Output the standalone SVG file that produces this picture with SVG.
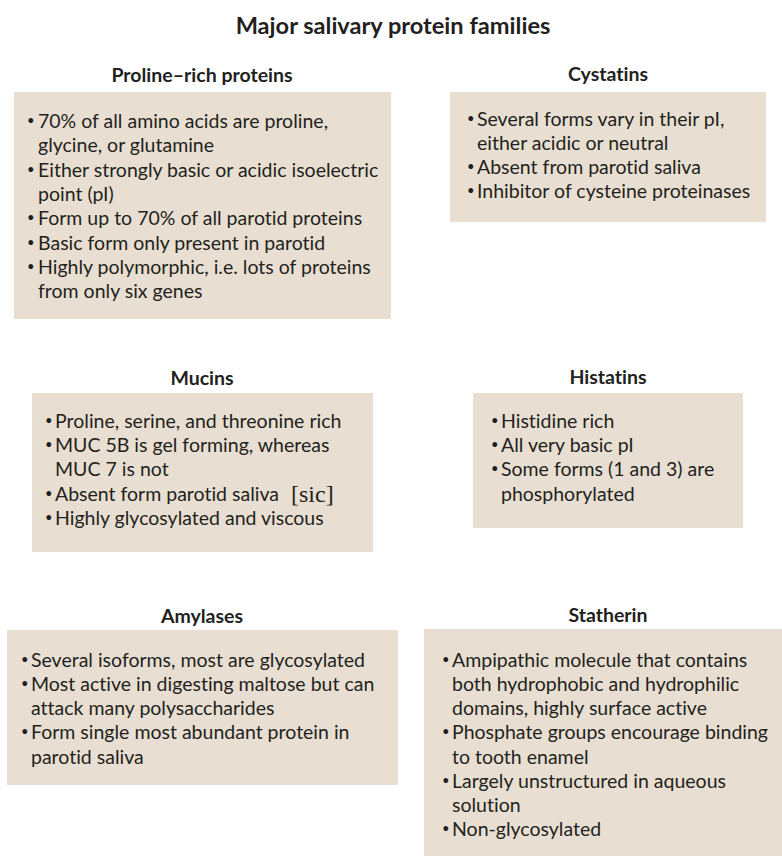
<svg xmlns="http://www.w3.org/2000/svg" width="782" height="856" viewBox="0 0 782 856">
<style>
.box{fill:#e8dfd2}
text{font-family:Lato,"Open Sans","Liberation Sans",sans-serif;fill:#231f20;font-variant-ligatures:none;font-feature-settings:"liga" 0}
.t{font-size:19.5px}
.b{font-size:13px}
.h{font-size:19.5px;font-weight:bold;text-anchor:middle}
.title{font-size:23.6px;font-weight:bold;text-anchor:middle}
.sic{font-family:"Liberation Serif",serif;font-size:24px}
</style>
<rect width="782" height="856" fill="#ffffff"/>
<text class="title" x="393" y="34">Major salivary protein families</text>

<g id="proline">
<text class="h" x="202" y="82">Proline–rich proteins</text>
<rect class="box" x="14" y="92" width="377" height="227"/>
<text class="b" x="27" y="125">•</text><text class="t" x="38" y="128">70% of all amino acids are proline,</text>
<text class="t" x="38" y="152">glycine, or glutamine</text>
<text class="b" x="27" y="174">•</text><text class="t" x="38" y="177">Either strongly basic or acidic isoelectric</text>
<text class="t" x="38" y="201">point (pI)</text>
<text class="b" x="27" y="222">•</text><text class="t" x="38" y="225">Form up to 70% of all parotid proteins</text>
<text class="b" x="27" y="247">•</text><text class="t" x="38" y="250">Basic form only present in parotid</text>
<text class="b" x="27" y="271">•</text><text class="t" x="38" y="274">Highly polymorphic, i.e. lots of proteins</text>
<text class="t" x="38" y="298">from only six genes</text>
</g>

<g id="cystatins">
<text class="h" x="608" y="81">Cystatins</text>
<rect class="box" x="450" y="92" width="316" height="130"/>
<text class="b" x="467" y="123">•</text><text class="t" x="477" y="126">Several forms vary in their pI,</text>
<text class="t" x="477" y="150">either acidic or neutral</text>
<text class="b" x="467" y="171">•</text><text class="t" x="477" y="174">Absent from parotid saliva</text>
<text class="b" x="467" y="195">•</text><text class="t" x="477" y="198">Inhibitor of cysteine proteinases</text>
</g>

<g id="mucins">
<text class="h" x="202" y="385">Mucins</text>
<rect class="box" x="32" y="393" width="341" height="159"/>
<text class="b" x="45" y="425">•</text><text class="t" x="55" y="428">Proline, serine, and threonine rich</text>
<text class="b" x="45" y="449">•</text><text class="t" x="55" y="452">MUC 5B is gel forming, whereas</text>
<text class="t" x="55" y="476">MUC 7 is not</text>
<text class="b" x="45" y="498">•</text><text class="t" x="55" y="501">Absent form parotid saliva</text>
<text class="sic" x="291" y="502">[sic]</text>
<text class="b" x="45" y="522">•</text><text class="t" x="55" y="525">Highly glycosylated and viscous</text>
</g>

<g id="histatins">
<text class="h" x="608" y="384">Histatins</text>
<rect class="box" x="473" y="393" width="270" height="135"/>
<text class="b" x="491" y="425">•</text><text class="t" x="501" y="428">Histidine rich</text>
<text class="b" x="491" y="449">•</text><text class="t" x="501" y="452">All very basic pI</text>
<text class="b" x="491" y="473">•</text><text class="t" x="501" y="476">Some forms (1 and 3) are</text>
<text class="t" x="501" y="501">phosphorylated</text>
</g>

<g id="amylases">
<text class="h" x="202" y="623">Amylases</text>
<rect class="box" x="7" y="630" width="391" height="155"/>
<text class="b" x="21" y="664">•</text><text class="t" x="31" y="667">Several isoforms, most are glycosylated</text>
<text class="b" x="21" y="688">•</text><text class="t" x="31" y="691">Most active in digesting maltose but can</text>
<text class="t" x="31" y="715">attack many polysaccharides</text>
<text class="b" x="21" y="736">•</text><text class="t" x="31" y="739">Form single most abundant protein in</text>
<text class="t" x="31" y="764">parotid saliva</text>
</g>

<g id="statherin">
<text class="h" x="608" y="622">Statherin</text>
<rect class="box" x="424" y="629" width="358" height="227"/>
<text class="b" x="442" y="664">•</text><text class="t" x="452" y="667">Ampipathic molecule that contains</text>
<text class="t" x="452" y="691">both hydrophobic and hydrophilic</text>
<text class="t" x="452" y="715">domains, highly surface active</text>
<text class="b" x="442" y="736">•</text><text class="t" x="452" y="739">Phosphate groups encourage binding</text>
<text class="t" x="452" y="764">to tooth enamel</text>
<text class="b" x="442" y="785">•</text><text class="t" x="452" y="788">Largely unstructured in aqueous</text>
<text class="t" x="452" y="812">solution</text>
<text class="b" x="442" y="833">•</text><text class="t" x="452" y="836">Non-glycosylated</text>
</g>

<g id="connectors"></g>
</svg>
